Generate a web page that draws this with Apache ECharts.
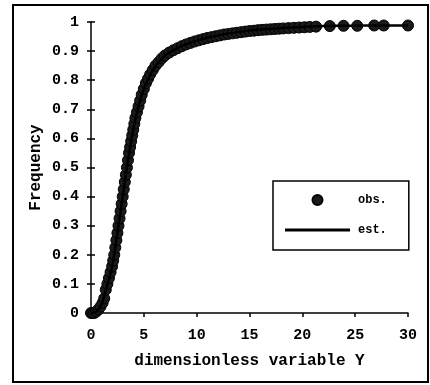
<!DOCTYPE html>
<html>
<head>
<meta charset="utf-8">
<script src="https://cdn.jsdelivr.net/npm/echarts@6/dist/echarts.min.js"></script>
<style>
  html, body { margin: 0; padding: 0; background: #fff; }
  #chart { width: 430px; height: 385px; }
</style>
</head>
<body>
<div id="chart"></div>
<script>
const obsX = [0, 0.15, 0.3, 0.5, 0.7, 0.9, 1.1, 1.25, 1.4, 1.55, 1.7, 1.85, 2.0, 2.1, 2.2, 2.3, 2.4, 2.5,
  2.6, 2.7, 2.8, 2.9, 3.0, 3.1, 3.2, 3.3, 3.4, 3.5, 3.6, 3.7, 3.8, 3.9, 4.0, 4.1, 4.2, 4.35, 4.5,
  4.65, 4.8, 5.0, 5.2, 5.4, 5.6, 5.85, 6.1, 6.4, 6.7, 7.0, 7.4, 7.8, 8.2, 8.6, 9.0, 9.4, 9.8, 10.2,
  10.6, 11.0, 11.4, 11.8, 12.2, 12.6, 13.0, 13.4, 13.8, 14.2, 14.6, 15.0, 15.4, 15.8, 16.2, 16.6,
  17.0, 17.4, 17.8, 18.2, 18.7, 19.2, 19.7, 20.2, 20.7, 21.3, 22.6, 23.9, 25.2, 26.8, 27.7, 30.0];
const obsF = [0, 0, 0, 0.005, 0.012, 0.022, 0.035, 0.05, 0.08, 0.1, 0.12, 0.14, 0.16, 0.18, 0.2, 0.225, 0.25, 0.275,
  0.3, 0.325, 0.35, 0.375, 0.4, 0.425, 0.45, 0.475, 0.5, 0.525, 0.55, 0.57, 0.59, 0.61, 0.63, 0.65, 0.67, 0.69, 0.71,
  0.73, 0.75, 0.77, 0.79, 0.805, 0.82, 0.835, 0.85, 0.862, 0.875, 0.885, 0.895, 0.903, 0.91, 0.917, 0.923, 0.928, 0.933, 0.937,
  0.941, 0.945, 0.948, 0.951, 0.954, 0.957, 0.959, 0.961, 0.963, 0.965, 0.967, 0.969, 0.97, 0.972, 0.973, 0.974,
  0.975, 0.976, 0.977, 0.978, 0.979, 0.98, 0.981, 0.982, 0.983, 0.984, 0.986, 0.987, 0.987, 0.988, 0.988, 0.988];

// estimated curve
const estX = [0, 0.5, 1, 1.5, 2, 2.5, 3, 3.5, 4, 4.5, 5, 5.5, 6, 7, 8, 9, 10, 12, 14, 16, 18, 20, 22, 24, 26, 28, 30];
const estF = [0, 0.005, 0.03, 0.09, 0.16, 0.275, 0.4, 0.525, 0.63, 0.71, 0.77, 0.81, 0.843, 0.885, 0.907, 0.923, 0.936,
  0.954, 0.966, 0.974, 0.979, 0.983, 0.986, 0.987, 0.988, 0.988, 0.988];

const FONT = '"Liberation Mono", "Courier New", monospace';

const chart = echarts.init(document.getElementById('chart'));

const option = {
  backgroundColor: '#fff',
  animation: false,
  grid: { left: 91, right: 22, top: 22, bottom: 72 },
  graphic: [{
    type: 'rect',
    shape: { x: 13, y: 5, width: 415, height: 377 },
    style: { fill: 'none', stroke: '#000', lineWidth: 2 },
    silent: true
  }],
  legend: {
    left: 273,
    top: 181,
    orient: 'vertical',
    backgroundColor: '#fff',
    borderColor: '#000',
    borderWidth: 1.5,
    borderRadius: 0,
    padding: [13, 22, 14, 12],
    itemWidth: 65,
    itemHeight: 10,
    itemGap: 18,
    textStyle: { fontFamily: FONT, fontWeight: 'bold', fontSize: 12, color: '#000', padding: [0, 0, 0, 3] },
    data: [
      { name: 'obs.', icon: 'circle' },
      { name: 'est.', icon: 'path://M0,0 H65 V3 H0 Z' }
    ]
  },
  xAxis: {
    type: 'value',
    min: 0,
    max: 30,
    interval: 5,
    name: 'dimensionless variable Y',
    nameLocation: 'middle',
    nameGap: 40,
    nameTextStyle: { fontFamily: FONT, fontWeight: 'bold', fontSize: 16, color: '#000' },
    axisLine: { show: true, lineStyle: { color: '#000', width: 1.5 } },
    axisTick: { show: true, length: 4, lineStyle: { color: '#000', width: 1.5 } },
    axisLabel: { fontFamily: FONT, fontWeight: 'bold', fontSize: 15, color: '#000', margin: 15 },
    splitLine: { show: false }
  },
  yAxis: [{
    type: 'value',
    min: 0,
    max: 1,
    interval: 0.1,
    name: 'Frequency',
    nameLocation: 'middle',
    nameGap: 47,
    nameMoveOverlap: false,
    nameTextStyle: { fontFamily: FONT, fontWeight: 'bold', fontSize: 16, color: '#000' },
    axisLine: { show: true, lineStyle: { color: '#000', width: 1.5 } },
    axisTick: { show: true, length: 4, lineStyle: { color: '#000', width: 1.5 } },
    axisLabel: { fontFamily: FONT, fontWeight: 'bold', fontSize: 15, color: '#000', margin: 12 },
    splitLine: { show: false }
  }, {
    // inner half of the crossing tick marks
    type: 'value',
    position: 'left',
    min: 0,
    max: 1,
    interval: 0.1,
    axisLine: { show: false },
    axisTick: { show: true, inside: true, length: 4, lineStyle: { color: '#000', width: 1.5 } },
    axisLabel: { show: false },
    splitLine: { show: false }
  }],
  series: [{
    name: 'obs.',
    type: 'scatter',
    data: obsX.map((x, i) => [x, obsF[i]]),
    symbol: 'circle',
    symbolSize: 11,
    itemStyle: { color: '#1a1a1a', borderColor: '#000', borderWidth: 1, opacity: 1 },
    z: 2
  }, {
    name: 'est.',
    type: 'line',
    data: estX.map((x, i) => [x, estF[i]]),
    smooth: 0.3,
    symbol: 'none',
    lineStyle: { color: '#000', width: 2.5 },
    itemStyle: { color: '#000' },
    z: 3
  }]
};

chart.setOption(option);
</script>
</body>
</html>
